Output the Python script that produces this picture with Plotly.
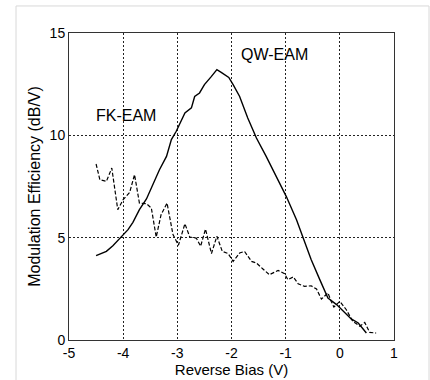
import plotly.graph_objects as go

# Modulation efficiency versus reverse bias for two modulator types
qw_bias = [-4.50, -4.31, -4.19, -4.00, -3.91, -3.82, -3.70, -3.57, -3.45, -3.33,
           -3.20, -3.11, -3.02, -2.93, -2.86, -2.74, -2.68, -2.59, -2.50, -2.37,
           -2.27, -2.19, -2.05, -1.97, -1.85, -1.70, -1.54, -1.36, -1.17, -0.99,
           -0.80, -0.68, -0.53, -0.37, -0.22, -0.06, 0.06, 0.21, 0.34, 0.49]
qw_eff = [4.12, 4.33, 4.61, 5.15, 5.39, 5.75, 6.37, 6.89, 7.59, 8.32,
          8.97, 9.79, 10.20, 10.68, 11.09, 11.34, 11.90, 12.07, 12.48, 12.88,
          13.21, 13.08, 12.83, 12.48, 11.90, 10.85, 9.87, 8.97, 8.00, 7.02,
          5.88, 4.98, 3.93, 2.95, 2.05, 1.73, 1.40, 1.03, 0.83, 0.34]

fk_bias = [-4.50, -4.43, -4.31, -4.21, -4.10, -4.00, -3.88, -3.79, -3.70, -3.57,
           -3.48, -3.39, -3.30, -3.19, -3.08, -2.98, -2.86, -2.77, -2.65, -2.57,
           -2.48, -2.37, -2.27, -2.17, -2.06, -1.97, -1.85, -1.76, -1.63, -1.54,
           -1.42, -1.30, -1.14, -1.02, -0.96, -0.86, -0.77, -0.65, -0.53, -0.43,
           -0.34, -0.22, -0.16, -0.11, 0.00, 0.12, 0.24, 0.37, 0.46, 0.55, 0.67]
fk_eff = [8.60, 7.83, 7.75, 8.40, 6.37, 6.86, 7.21, 8.08, 6.69, 6.66,
          6.45, 5.03, 6.12, 6.69, 5.15, 4.63, 5.68, 5.03, 4.98, 4.58,
          5.42, 4.22, 5.07, 4.33, 4.22, 3.84, 4.25, 4.33, 3.84, 3.76,
          3.47, 3.19, 3.40, 3.24, 2.95, 3.08, 2.75, 2.62, 2.65, 2.49,
          2.00, 2.30, 1.89, 1.61, 1.89, 1.48, 0.91, 0.67, 0.86, 0.37, 0.34]

x_ticks = [-5, -4, -3, -2, -1, 0, 1]
y_ticks = [0, 5, 10, 15]

FONT = "Liberation Sans, Arial, sans-serif"

fig = go.Figure()
fig.add_trace(go.Scatter(x=qw_bias, y=qw_eff, mode="lines",
                         line=dict(color="black", width=1.4), showlegend=False))
fig.add_trace(go.Scatter(x=fk_bias, y=fk_eff, mode="lines",
                         line=dict(color="black", width=1.2, dash="4px,2px"),
                         showlegend=False))

fig.add_annotation(x=-1.2, y=13.97, text="QW-EAM", showarrow=False,
                   font=dict(size=16, color="black", family=FONT),
                   xanchor="center", yanchor="middle")
fig.add_annotation(x=-3.95, y=10.99, text="FK-EAM", showarrow=False,
                   font=dict(size=16, color="black", family=FONT),
                   xanchor="center", yanchor="middle")

# light frame around the whole figure
fig.add_shape(type="rect", xref="paper", yref="paper",
              x0=-0.163, x1=1.1077, y0=-0.16, y1=1.088,
              line=dict(color="#d8d8d8", width=1), layer="below")

axis_common = dict(showline=True, mirror=True, linecolor="#333333", linewidth=1,
                   showgrid=True, gridcolor="#222222", gridwidth=1,
                   griddash="2px,2px", zeroline=False, ticks="", automargin=False,
                   tickfont=dict(size=14, color="black", family=FONT))

fig.update_xaxes(range=[-5, 1], tickvals=x_ticks, ticktext=[str(v) for v in x_ticks],
                 title=dict(text="Reverse Bias (V)", standoff=2,
                            font=dict(size=15, color="black", family=FONT)),
                 **axis_common)
fig.update_yaxes(range=[0, 15], tickvals=y_ticks, ticktext=[str(v) for v in y_ticks],
                 title=dict(text="Modulation Efficiency (dB/V)", standoff=5,
                            font=dict(size=16, color="black", family=FONT)),
                 **axis_common)

fig.update_layout(width=430, height=380,
                  margin=dict(l=69, r=36, t=33, b=40),
                  paper_bgcolor="white", plot_bgcolor="white",
                  font=dict(family=FONT, color="black"))

fig.write_html("out.html")
